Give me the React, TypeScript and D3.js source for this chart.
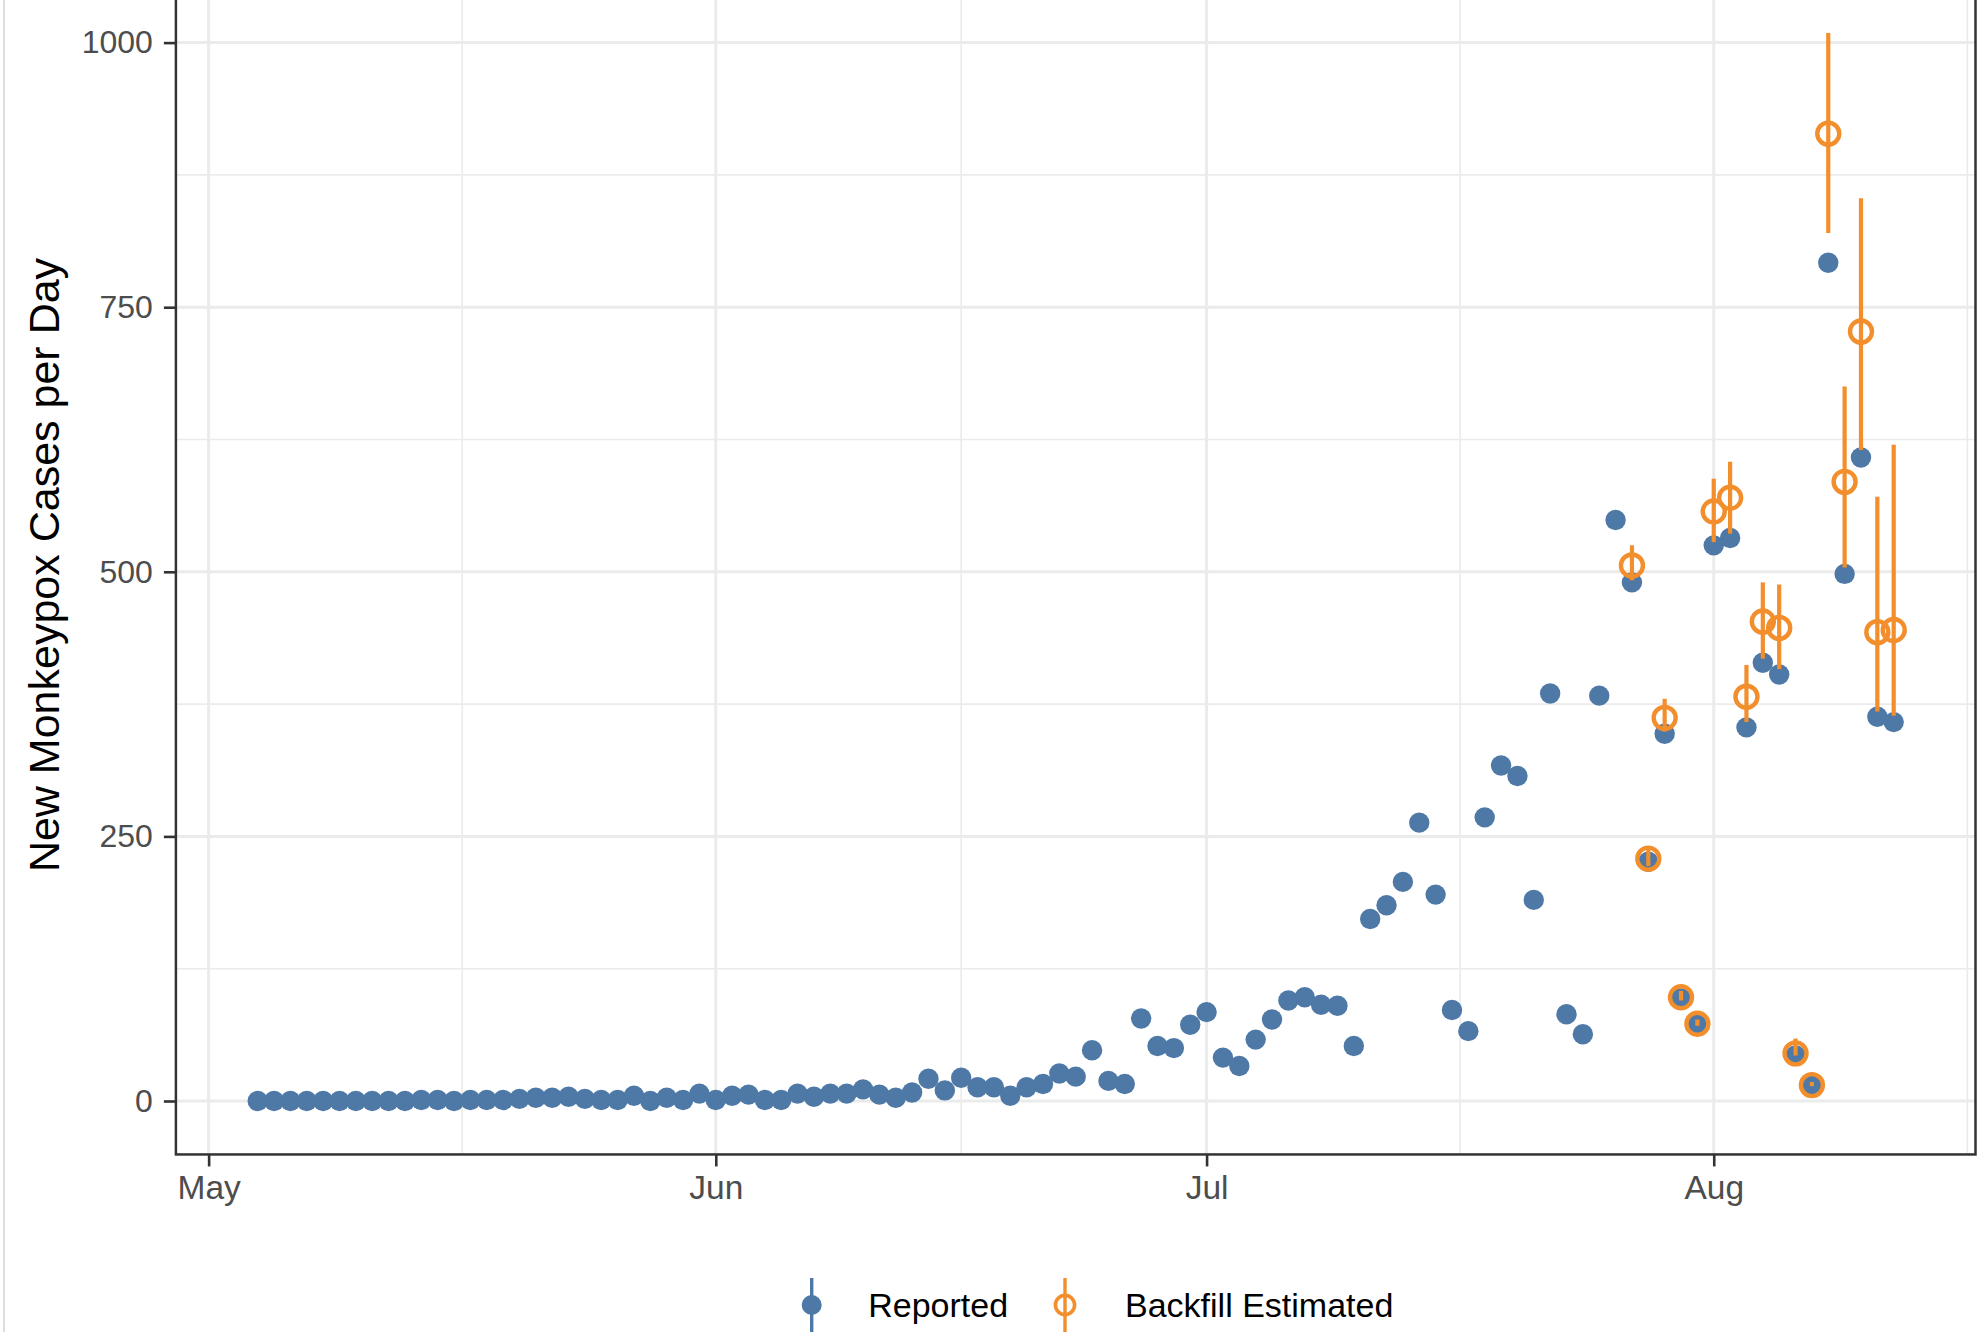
import React, { useRef, useEffect } from 'react';
import * as d3 from 'd3';

// daily reported cases, one value per day starting May 4 2022
const reportedStart = '2022-05-04';
const reported: number[] = [
  0, 0, 0, 0, 0, 0, 0, 0, 0, 0, // May 4-13
  1, 1, 0, 1, 1, 1, 2, 3, 3, 4, // May 14-23
  2, 1, 1, 5, 0, 3, 1, 7, // May 24-31
  1, 5, 6, 1, 1, 7, 4, 7, 7, 11, // Jun 1-10
  6, 3, 8, 21, 10, 22, 13, 13, 5, 13, // Jun 11-20
  16, 26, 23, 48, 19, 16, 78, 52, 50, 72, // Jun 21-30
  84, 41, 33, 58, 77, 95, 98, 91, 90, 52, // Jul 1-10
  172, 185, 207, 263, 195, 86, 66, 268, 317, 307, // Jul 11-20
  190, 385, 82, 63, 383, 549, 490, 226, 347, 97, // Jul 21-30
  72, // Jul 31
  525, 532, 353, 414, 403, 43, 15, 792, 498, 608, 363, 358, // Aug 1-12
];

// backfill estimates with intervals, starting Jul 27
const backfillStart = '2022-07-27';
const backfillEst: number[] = [506, 229, 362, 98, 73, 557, 570, 382, 453, 447, 45, 15, 914, 585, 727, 443, 445];
const backfillLo: number[] = [492, 222, 349, 95, 71, 528, 536, 358, 418, 408, 43, 14, 820, 504, 615, 368, 364];
const backfillHi: number[] = [525, 238, 380, 104, 77, 588, 604, 412, 490, 488, 59, 18, 1009, 675, 853, 571, 620];

const monthTicks = ['2022-05-01', '2022-06-01', '2022-07-01', '2022-08-01', '2022-09-01'];
const yTicks = [0, 250, 500, 750, 1000];
const yMinor = [125, 375, 625, 875];
const seriesNames = ['Reported', 'Backfill Estimated'];

const BLUE = '#4E79A7';
const ORANGE = '#F28E2B';
const FONT = '"Liberation Sans", Arial, Helvetica, sans-serif';

const Chart: React.FC = () => {
  const ref = useRef<SVGSVGElement | null>(null);

  useEffect(() => {
    if (!ref.current) return;
    const svg = d3.select(ref.current);
    svg.selectAll('*').remove();

    const width = 1982;
    const height = 1332;

    const day = (s: string, i: number) => d3.utcDay.offset(new Date(s), i);
    const reportedData = reported.map((v, i) => ({ date: day(reportedStart, i), v }));
    const backfillData = backfillEst.map((v, i) => ({
      date: day(backfillStart, i), v, lo: backfillLo[i], hi: backfillHi[i],
    }));

    const x = d3.scaleUtc()
      .domain([new Date('2022-04-29'), new Date('2022-08-17')])
      .range([175.9, 1975.5]);

    const y = d3.scaleLinear()
      .domain([0, 1000])
      .range([1101, 42.6]);

    const [px0, px1] = x.range();
    const py0 = y(-50.5);
    const py1 = y(1060);

    svg.attr('width', width).attr('height', height)
      .attr('viewBox', [0, 0, width, height].join(' '))
      .style('font-family', FONT);

    svg.append('rect').attr('width', width).attr('height', height).attr('fill', '#fff');
    svg.append('line')
      .attr('x1', 4).attr('x2', 4).attr('y1', 0).attr('y2', height)
      .attr('stroke', '#dedede').attr('stroke-width', 2);

    const months = monthTicks.map(d => new Date(d));
    const monthMids = d3.pairs(months).map(([a, b]) => new Date((+a + +b) / 2));
    const majorX = months.filter(d => x(d) >= px0 && x(d) <= px1);
    const minorX = monthMids.filter(d => x(d) >= px0 && x(d) <= px1);

    // grid
    const grid = svg.append('g').attr('stroke', '#EBEBEB');
    grid.append('g').selectAll('line').data(yMinor).join('line')
      .attr('x1', px0).attr('x2', px1)
      .attr('y1', d => y(d)).attr('y2', d => y(d))
      .attr('stroke-width', 1.6);
    grid.append('g').selectAll('line').data(minorX).join('line')
      .attr('x1', d => x(d)).attr('x2', d => x(d))
      .attr('y1', py1).attr('y2', py0)
      .attr('stroke-width', 1.6);
    grid.append('g').selectAll('line').data(yTicks).join('line')
      .attr('x1', px0).attr('x2', px1)
      .attr('y1', d => y(d)).attr('y2', d => y(d))
      .attr('stroke-width', 3);
    grid.append('g').selectAll('line').data(majorX).join('line')
      .attr('x1', d => x(d)).attr('x2', d => x(d))
      .attr('y1', py1).attr('y2', py0)
      .attr('stroke-width', 3);

    // reported points
    svg.append('g')
      .selectAll('circle')
      .data(reportedData)
      .join('circle')
        .attr('cx', d => x(d.date))
        .attr('cy', d => y(d.v))
        .attr('r', 10.2)
        .attr('fill', BLUE);

    // backfill ranges and open circles
    const bf = svg.append('g');
    bf.selectAll('line')
      .data(backfillData)
      .join('line')
        .attr('x1', d => x(d.date)).attr('x2', d => x(d.date))
        .attr('y1', d => y(d.lo)).attr('y2', d => y(d.hi))
        .attr('stroke', ORANGE)
        .attr('stroke-width', 4.2);
    bf.selectAll('circle')
      .data(backfillData)
      .join('circle')
        .attr('cx', d => x(d.date))
        .attr('cy', d => y(d.v))
        .attr('r', 11)
        .attr('fill', 'none')
        .attr('stroke', ORANGE)
        .attr('stroke-width', 4.4);

    // panel border
    svg.append('rect')
      .attr('x', px0).attr('y', py1)
      .attr('width', px1 - px0).attr('height', py0 - py1)
      .attr('fill', 'none')
      .attr('stroke', '#333333')
      .attr('stroke-width', 2.5);

    // axes
    svg.append('g')
      .attr('transform', `translate(${px0},0)`)
      .call(d3.axisLeft(y).tickValues(yTicks).tickFormat(d3.format('d') as any)
        .tickSize(12).tickPadding(11).tickSizeOuter(0))
      .call(g => g.select('.domain').remove())
      .call(g => g.selectAll('.tick line').attr('stroke', '#333333').attr('stroke-width', 2.6))
      .call(g => g.selectAll('.tick text')
        .attr('fill', '#4D4D4D')
        .attr('font-size', 32)
        .attr('font-family', FONT));

    svg.append('g')
      .attr('transform', `translate(0,${py0})`)
      .call(d3.axisBottom(x).tickValues(majorX).tickFormat(d3.utcFormat('%b') as any)
        .tickSize(12).tickPadding(9).tickSizeOuter(0))
      .call(g => g.select('.domain').remove())
      .call(g => g.selectAll('.tick line').attr('stroke', '#333333').attr('stroke-width', 2.6))
      .call(g => g.selectAll('.tick text')
        .attr('fill', '#4D4D4D')
        .attr('font-size', 33.5)
        .attr('font-family', FONT));

    svg.append('text')
      .attr('transform', `translate(59,565) rotate(-90)`)
      .attr('text-anchor', 'middle')
      .attr('font-size', 43)
      .attr('fill', '#000')
      .text('New Monkeypox Cases per Day');

    // legend
    const legend = svg.append('g');
    const keyX = [811.7, 1065];
    const keyY = 1305;
    seriesNames.forEach((name, i) => {
      const c = i === 0 ? BLUE : ORANGE;
      legend.append('line')
        .attr('x1', keyX[i]).attr('x2', keyX[i])
        .attr('y1', keyY - 27).attr('y2', keyY + 27)
        .attr('stroke', c).attr('stroke-width', 3.4);
      if (i === 0) {
        legend.append('circle').attr('cx', keyX[i]).attr('cy', keyY).attr('r', 10).attr('fill', c);
      } else {
        legend.append('circle').attr('cx', keyX[i]).attr('cy', keyY).attr('r', 9.6)
          .attr('fill', 'none').attr('stroke', c).attr('stroke-width', 3.6);
      }
      legend.append('text')
        .attr('x', keyX[i] + 56.5 + (i === 1 ? 3.5 : 0))
        .attr('y', keyY + 12)
        .attr('font-size', 34)
        .attr('fill', '#000')
        .text(name);
    });
  }, []);

  return <svg ref={ref} style={{ position: 'absolute', left: 0, top: 0, display: 'block' }} />;
};

export default function App() {
  return <Chart />;
}
